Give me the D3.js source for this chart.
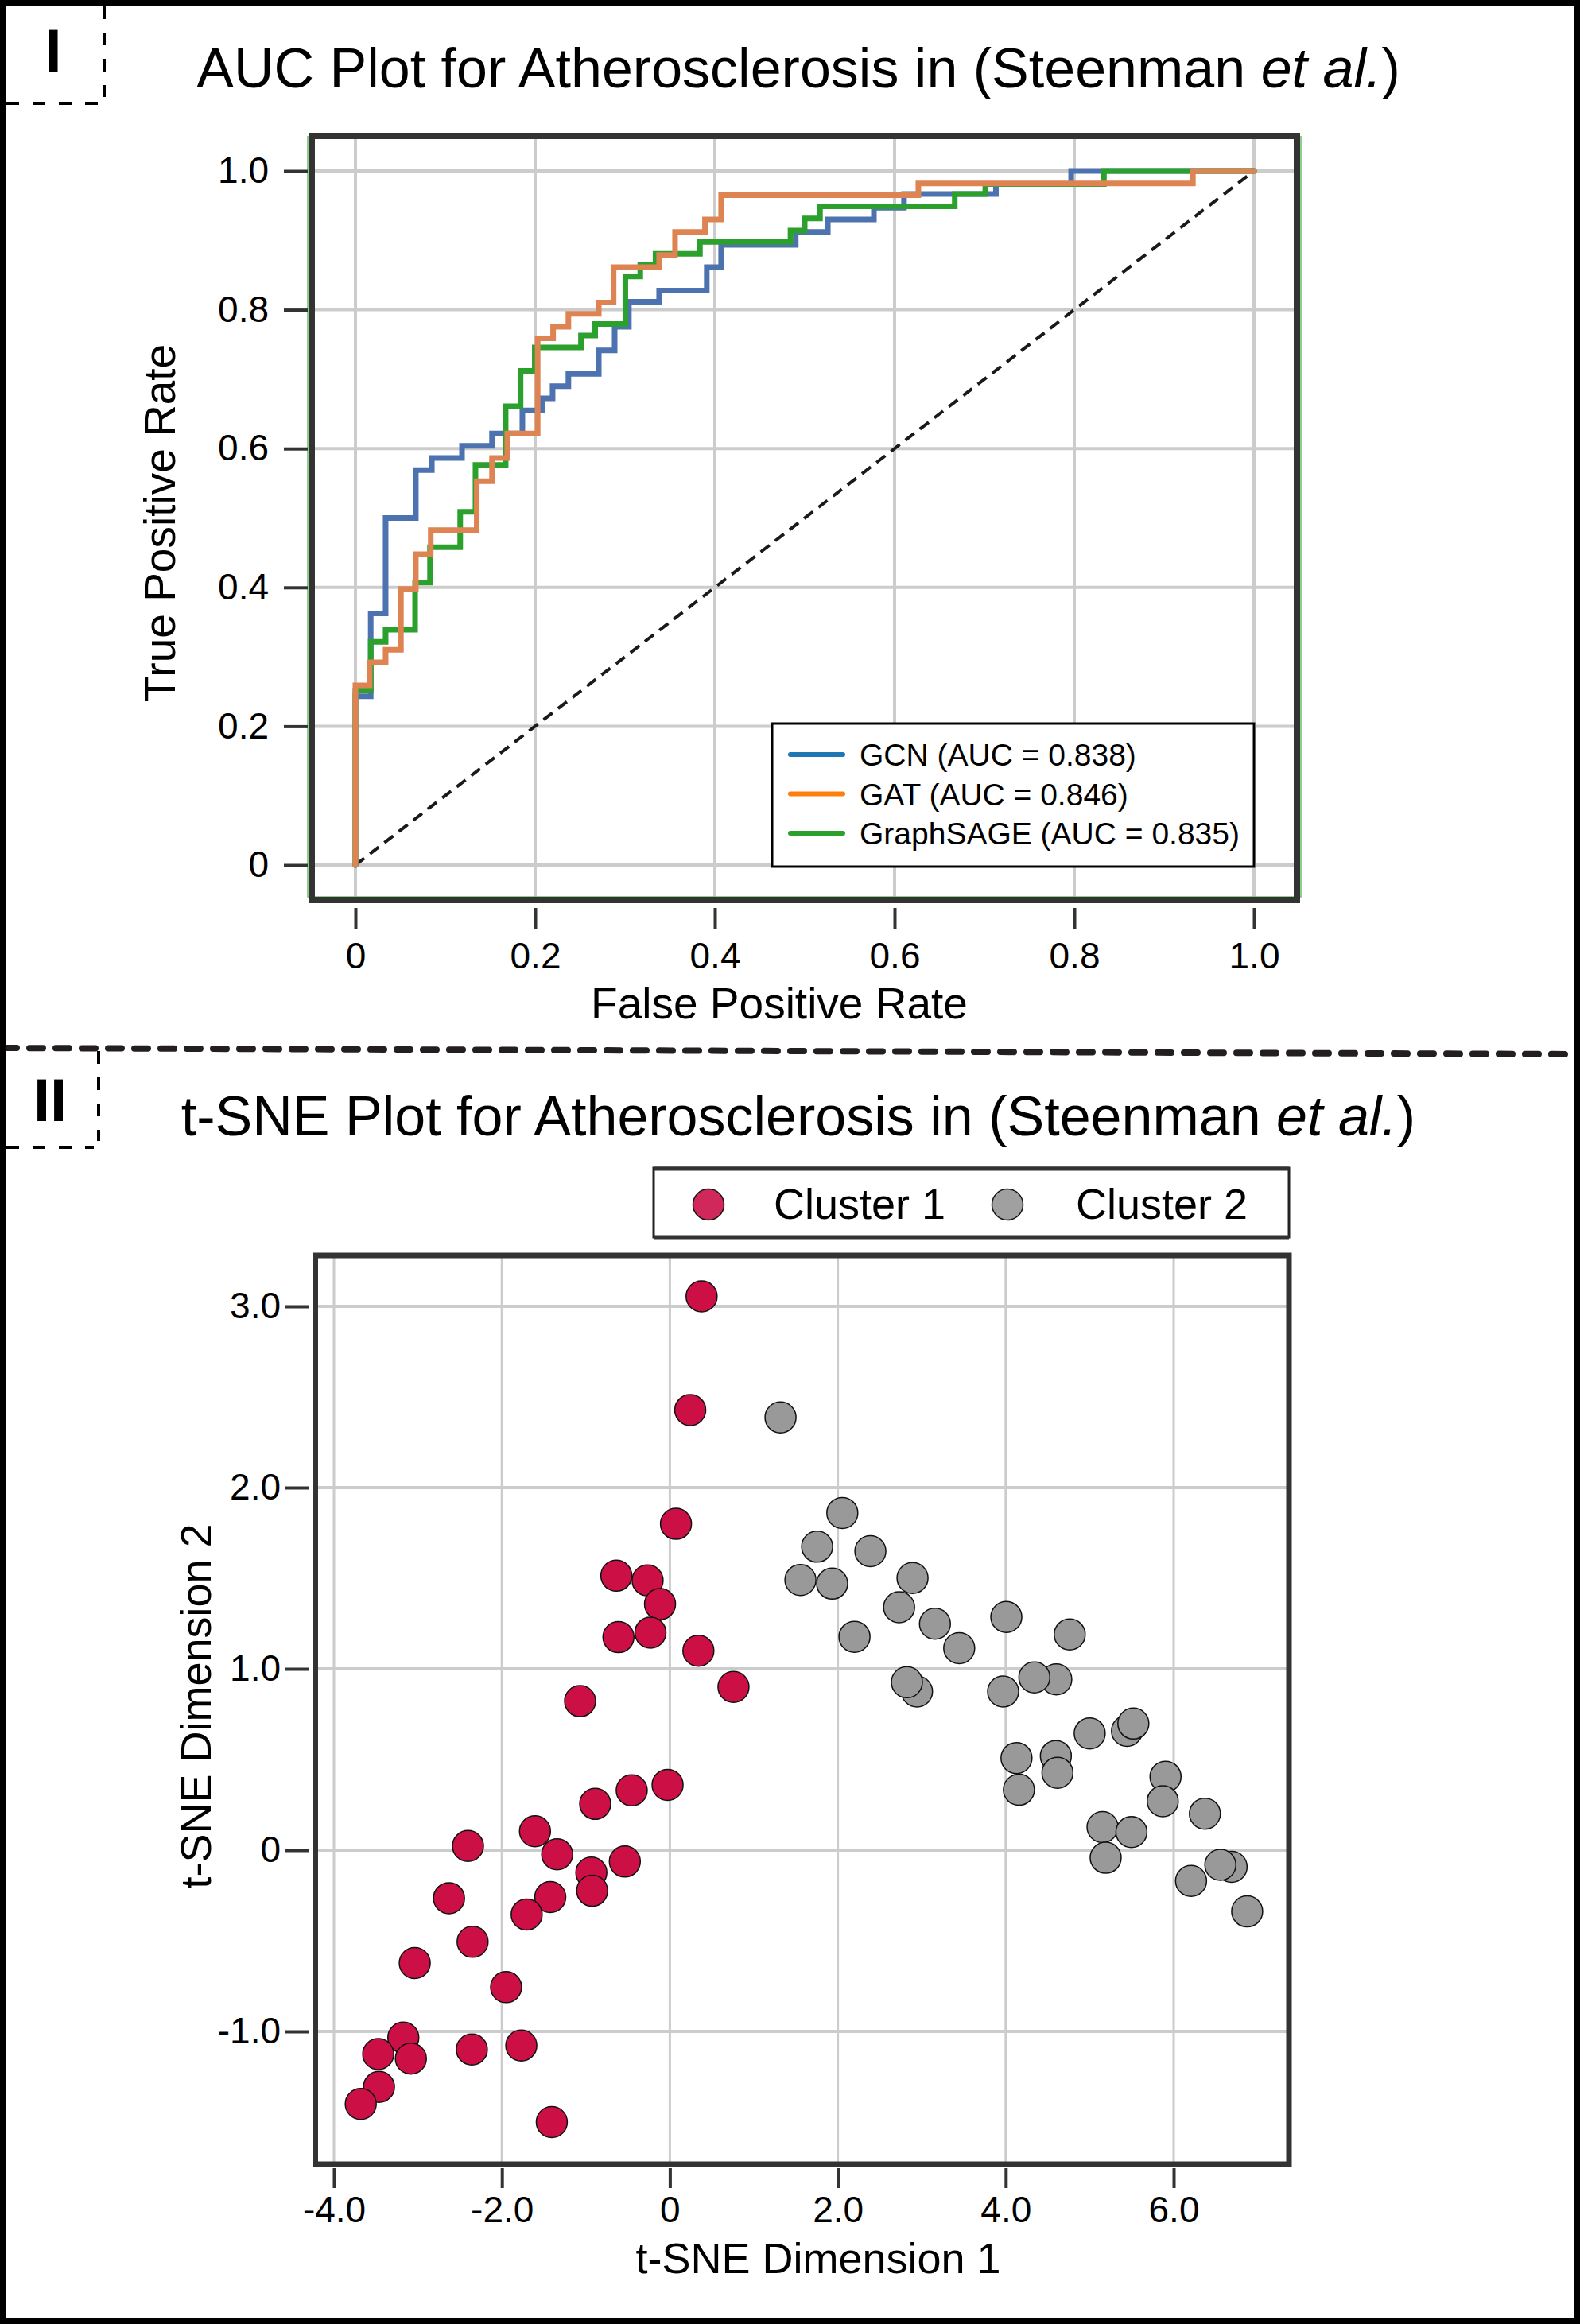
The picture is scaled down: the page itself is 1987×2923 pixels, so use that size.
<!DOCTYPE html>
<html>
<head>
<meta charset="utf-8">
<script src="https://cdn.jsdelivr.net/npm/d3@7"></script>
<style>
  body { margin: 0; background: #fff; }
  svg { display: block; font-family: "Liberation Sans", Arial, Helvetica, sans-serif; }
</style>
</head>
<body>
<div class="chart"></div>
<script>
const WIDTH = 1987;
const HEIGHT = 2923;

// ROC steps: fpr where each jump happens, tpr after the jump
const fprGCN = [0, 0, 0.017, 0.0336, 0.0672, 0.085, 0.1186, 0.152, 0.1858, 0.2075, 0.2194, 0.237, 0.2708, 0.2885, 0.3043, 0.338, 0.391, 0.407, 0.49, 0.5257, 0.577, 0.6105, 0.7128, 0.7965, 1.0];
const tprGCN = [0, 0.243, 0.3626, 0.5, 0.569, 0.5865, 0.604, 0.6216, 0.655, 0.6725, 0.69, 0.7076, 0.7415, 0.7754, 0.8117, 0.8275, 0.8614, 0.8936, 0.912, 0.93, 0.947, 0.9668, 0.981, 1.0, 1.0];
const fprGAT = [0, 0, 0.0158, 0.0336, 0.0506, 0.0672, 0.0838, 0.135, 0.152, 0.169, 0.2028, 0.22, 0.237, 0.2708, 0.2873, 0.338, 0.3557, 0.389, 0.407, 0.6265, 0.932, 1.0];
const tprGAT = [0, 0.259, 0.292, 0.31, 0.3977, 0.448, 0.4825, 0.553, 0.5865, 0.6216, 0.759, 0.7754, 0.794, 0.8105, 0.8614, 0.879, 0.912, 0.93, 0.965, 0.982, 1.0, 1.0];
const fprSAGE = [0, 0, 0.017, 0.0336, 0.0664, 0.083, 0.1166, 0.1336, 0.1672, 0.1838, 0.1996, 0.251, 0.2668, 0.3004, 0.317, 0.334, 0.3834, 0.4842, 0.5, 0.517, 0.667, 0.701, 0.833, 1.0];
const tprSAGE = [0, 0.2515, 0.3216, 0.339, 0.407, 0.458, 0.5088, 0.5766, 0.661, 0.712, 0.7456, 0.763, 0.7795, 0.848, 0.8643, 0.8807, 0.8977, 0.914, 0.9316, 0.949, 0.9668, 0.981, 1.0, 1.0];
const rocNames = ['GCN (AUC = 0.838)', 'GAT (AUC = 0.846)', 'GraphSAGE (AUC = 0.835)'];
const rocTicks = [0, 0.2, 0.4, 0.6, 0.8, 1.0];
const rocTickLabels = ['0', '0.2', '0.4', '0.6', '0.8', '1.0'];

// t-SNE points
const cluster1X = [0.378, 0.243, 0.073, -0.637, -0.265, -0.117, -0.612, -0.231, 0.34, 0.758, -1.069, -0.027, -0.454, -0.889, -1.606, -2.404, -1.342, -0.536, -0.935, -0.925, -1.424, -2.63, -1.705, -2.349, -3.038, -1.95, -3.174, -3.473, -3.084, -2.358, -1.769, -3.464, -3.681, -1.406];
const cluster1Y = [3.055, 2.428, 1.80, 1.514, 1.488, 1.357, 1.175, 1.20, 1.10, 0.90, 0.822, 0.36, 0.33, 0.255, 0.104, 0.023, -0.023, -0.063, -0.124, -0.224, -0.259, -0.265, -0.355, -0.506, -0.623, -0.756, -1.034, -1.125, -1.15, -1.10, -1.078, -1.306, -1.40, -1.50];
const cluster2X = [1.318, 2.054, 1.754, 2.388, 1.555, 1.933, 2.89, 2.73, 3.157, 2.199, 3.446, 4.007, 4.762, 2.943, 2.823, 3.969, 4.602, 4.341, 5.0, 5.444, 5.52, 4.128, 4.597, 4.616, 4.157, 5.903, 5.87, 6.372, 5.153, 5.497, 5.19, 6.207, 6.69, 6.556, 6.875];
const cluster2Y = [2.387, 1.86, 1.674, 1.649, 1.49, 1.47, 1.501, 1.34, 1.249, 1.177, 1.114, 1.286, 1.19, 0.875, 0.926, 0.875, 0.942, 0.953, 0.644, 0.658, 0.698, 0.508, 0.519, 0.427, 0.333, 0.405, 0.27, 0.201, 0.127, 0.10, -0.042, -0.17, -0.092, -0.081, -0.338];
const clusterNames = ['Cluster 1', 'Cluster 2'];
const tsneXTicks = [-4, -2, 0, 2, 4, 6];
const tsneXTickLabels = ['-4.0', '-2.0', '0', '2.0', '4.0', '6.0'];
const tsneYTicks = [-1, 0, 1, 2, 3];
const tsneYTickLabels = ['-1.0', '0', '1.0', '2.0', '3.0'];

const lineColors = ['#4C72B0', '#DD8452', '#2ca02c'];
const swatchColors = ['#1f77b4', '#ff7f0e', '#2ca02c'];
const clusterColors = ['#cc1046', '#999999'];
const GRID = '#cccccc';
const FRAME = '#333333';

var svg = d3.select('.chart').append('svg')
  .attr('width', WIDTH)
  .attr('height', HEIGHT);

svg.append('rect').attr('width', WIDTH).attr('height', HEIGHT).attr('fill', '#fff');

function zip(xs, ys) {
  return xs.map(function (x, i) { return [x, ys[i]]; });
}

function panelTitle(y, lead) {
  var t = svg.append('text')
    .attr('x', 1004).attr('y', y)
    .attr('text-anchor', 'middle')
    .attr('font-size', 70)
    .attr('fill', '#000');
  t.append('tspan').text(lead + ' Plot for Atherosclerosis in (Steenman ');
  t.append('tspan').attr('font-style', 'italic').text('et al.');
  t.append('tspan').text(')');
}

function styleAxis(g, size) {
  g.select('.domain').remove();
  g.selectAll('.tick line').attr('stroke', FRAME).attr('stroke-width', 4);
  g.selectAll('.tick text').attr('font-size', size).attr('fill', '#000')
    .attr('font-family', '"Liberation Sans", Arial, sans-serif');
}

// ---------- Panel I : ROC ----------
var rx = d3.scaleLinear().domain([0, 1]).range([447, 1577]);
var ry = d3.scaleLinear().domain([0, 1]).range([1088, 215]);
var rocBox = {x0: 392, x1: 1631, y0: 171, y1: 1132};

panelTitle(110, 'AUC');

var rocGrid = svg.append('g');
rocTicks.forEach(function (t) {
  rocGrid.append('line')
    .attr('x1', rx(t)).attr('x2', rx(t))
    .attr('y1', rocBox.y0).attr('y2', rocBox.y1)
    .attr('stroke', GRID).attr('stroke-width', 4);
  rocGrid.append('line')
    .attr('x1', rocBox.x0).attr('x2', rocBox.x1)
    .attr('y1', ry(t)).attr('y2', ry(t))
    .attr('stroke', GRID).attr('stroke-width', 4);
});

svg.append('line')
  .attr('x1', rx(0)).attr('y1', ry(0))
  .attr('x2', rx(1)).attr('y2', ry(1))
  .attr('stroke', '#1a1a1a').attr('stroke-width', 4)
  .attr('stroke-dasharray', '14 9');

var stepLine = d3.line()
  .x(function (d) { return rx(d[0]); })
  .y(function (d) { return ry(d[1]); })
  .curve(d3.curveStepAfter);

var rocSeries = [zip(fprGCN, tprGCN), zip(fprGAT, tprGAT), zip(fprSAGE, tprSAGE)];
[0, 2, 1].forEach(function (i) {
  svg.append('path')
    .attr('d', stepLine(rocSeries[i]))
    .attr('fill', 'none')
    .attr('stroke', lineColors[i])
    .attr('stroke-width', 7)
    .attr('stroke-linecap', 'round');
});

// thin green outline peeking out under the frame
svg.append('path')
  .attr('d', 'M387,' + rocBox.y0 + 'V1128H1636V' + rocBox.y0)
  .attr('fill', 'none').attr('stroke', '#6cbf6a').attr('stroke-width', 1.5);

svg.append('rect')
  .attr('x', rocBox.x0).attr('y', rocBox.y0)
  .attr('width', rocBox.x1 - rocBox.x0).attr('height', rocBox.y1 - rocBox.y0)
  .attr('fill', 'none').attr('stroke', FRAME).attr('stroke-width', 8);

var rocXAxis = svg.append('g')
  .attr('transform', 'translate(0,1142)')
  .call(d3.axisBottom(rx).tickValues(rocTicks)
    .tickFormat(function (d, i) { return rocTickLabels[i]; })
    .tickSize(27).tickPadding(16));
styleAxis(rocXAxis, 46);

var rocYAxis = svg.append('g')
  .attr('transform', 'translate(387,0)')
  .call(d3.axisLeft(ry).tickValues(rocTicks)
    .tickFormat(function (d, i) { return rocTickLabels[i]; })
    .tickSize(30).tickPadding(19));
styleAxis(rocYAxis, 46);

svg.append('text')
  .attr('x', 980).attr('y', 1281)
  .attr('text-anchor', 'middle').attr('font-size', 55)
  .text('False Positive Rate');

svg.append('text')
  .attr('transform', 'translate(220,658) rotate(-90)')
  .attr('text-anchor', 'middle').attr('font-size', 55)
  .text('True Positive Rate');

// ROC legend
var rocLegend = svg.append('g');
rocLegend.append('rect')
  .attr('x', 971).attr('y', 910).attr('width', 606).attr('height', 180)
  .attr('fill', '#fff').attr('stroke', '#000').attr('stroke-width', 3);
rocNames.forEach(function (name, i) {
  var y = 949 + i * 49.5;
  rocLegend.append('line')
    .attr('x1', 994).attr('x2', 1060).attr('y1', y).attr('y2', y)
    .attr('stroke', swatchColors[i]).attr('stroke-width', 6)
    .attr('stroke-linecap', 'round');
  rocLegend.append('text')
    .attr('x', 1081).attr('y', y).attr('dy', '0.36em')
    .attr('font-size', 39)
    .text(name);
});

// ---------- Panel II : t-SNE ----------
var tx = d3.scaleLinear().domain([-4, 6]).range([420, 1476]);
var ty = d3.scaleLinear().domain([-1, 3]).range([2555, 1643]);
var tsneBox = {x0: 396.5, x1: 1621, y0: 1579, y1: 2722};

panelTitle(1428, 't-SNE');

var tsneGrid = svg.append('g');
tsneXTicks.forEach(function (t) {
  tsneGrid.append('line')
    .attr('x1', tx(t)).attr('x2', tx(t))
    .attr('y1', tsneBox.y0).attr('y2', tsneBox.y1)
    .attr('stroke', GRID).attr('stroke-width', 3);
});
tsneYTicks.forEach(function (t) {
  tsneGrid.append('line')
    .attr('x1', tsneBox.x0).attr('x2', tsneBox.x1)
    .attr('y1', ty(t)).attr('y2', ty(t))
    .attr('stroke', GRID).attr('stroke-width', 4);
});

var clusters = [zip(cluster1X, cluster1Y), zip(cluster2X, cluster2Y)];
clusters.forEach(function (pts, c) {
  svg.append('g').selectAll('circle')
    .data(pts)
    .enter().append('circle')
    .attr('cx', function (d) { return tx(d[0]); })
    .attr('cy', function (d) { return ty(d[1]); })
    .attr('r', 19.5)
    .attr('fill', clusterColors[c])
    .attr('stroke', '#111').attr('stroke-width', 1.5);
});

svg.append('rect')
  .attr('x', tsneBox.x0).attr('y', tsneBox.y0)
  .attr('width', tsneBox.x1 - tsneBox.x0).attr('height', tsneBox.y1 - tsneBox.y0)
  .attr('fill', 'none').attr('stroke', FRAME).attr('stroke-width', 7);

var tsneXAxis = svg.append('g')
  .attr('transform', 'translate(0,2727)')
  .call(d3.axisBottom(tx).tickValues(tsneXTicks)
    .tickFormat(function (d, i) { return tsneXTickLabels[i]; })
    .tickSize(25).tickPadding(10));
styleAxis(tsneXAxis, 46);

var tsneYAxis = svg.append('g')
  .attr('transform', 'translate(388,0)')
  .call(d3.axisLeft(ty).tickValues(tsneYTicks)
    .tickFormat(function (d, i) { return tsneYTickLabels[i]; })
    .tickSize(30).tickPadding(5));
styleAxis(tsneYAxis, 46);

svg.append('text')
  .attr('x', 1029).attr('y', 2859)
  .attr('text-anchor', 'middle').attr('font-size', 54)
  .text('t-SNE Dimension 1');

svg.append('text')
  .attr('transform', 'translate(265,2146) rotate(-90)')
  .attr('text-anchor', 'middle').attr('font-size', 54)
  .text('t-SNE Dimension 2');

// cluster legend
var tsneLegend = svg.append('g');
tsneLegend.append('rect')
  .attr('x', 822).attr('y', 1469).attr('width', 799).attr('height', 87)
  .attr('fill', '#fff').attr('stroke', '#222').attr('stroke-width', 3);
tsneLegend.append('line').attr('x1', 822).attr('x2', 1621).attr('y1', 1470).attr('y2', 1470)
  .attr('stroke', FRAME).attr('stroke-width', 5);
tsneLegend.append('line').attr('x1', 822).attr('x2', 1621).attr('y1', 1556).attr('y2', 1556)
  .attr('stroke', FRAME).attr('stroke-width', 5);
var legendX = [891, 1267];
clusterNames.forEach(function (name, i) {
  tsneLegend.append('circle')
    .attr('cx', legendX[i]).attr('cy', 1515).attr('r', 19.5)
    .attr('fill', i === 0 ? '#d0285a' : '#a0a0a0')
    .attr('stroke', '#111').attr('stroke-width', 1.5);
  tsneLegend.append('text')
    .attr('x', legendX[i] + (i === 0 ? 82 : 86)).attr('y', 1533)
    .attr('font-size', 54)
    .text(name);
});

// ---------- panel decorations ----------
function labelBox(x1, y0, y1, label, lx, ly) {
  svg.append('line').attr('x1', x1).attr('x2', x1).attr('y1', y0).attr('y2', y1 - 8)
    .attr('stroke', '#000').attr('stroke-width', 4).attr('stroke-dasharray', '16 17');
  svg.append('line').attr('x1', 8).attr('x2', x1 - 6).attr('y1', y1).attr('y2', y1)
    .attr('stroke', '#000').attr('stroke-width', 4).attr('stroke-dasharray', '16 17');
  svg.append('text')
    .attr('x', lx).attr('y', ly)
    .attr('text-anchor', 'middle').attr('font-size', 76).attr('font-weight', 'bold')
    .text(label);
}
labelBox(131, 8, 130, 'I', 67, 90);
labelBox(124, 1322, 1443, 'II', 63, 1410);

svg.append('line')
  .attr('x1', 4).attr('y1', 1318).attr('x2', 1983).attr('y2', 1326)
  .attr('stroke', '#231f20').attr('stroke-width', 8)
  .attr('stroke-linecap', 'round').attr('stroke-dasharray', '17 16');

svg.append('rect')
  .attr('x', 4).attr('y', 4).attr('width', WIDTH - 8).attr('height', HEIGHT - 8)
  .attr('fill', 'none').attr('stroke', '#000').attr('stroke-width', 8);
</script>
</body>
</html>
